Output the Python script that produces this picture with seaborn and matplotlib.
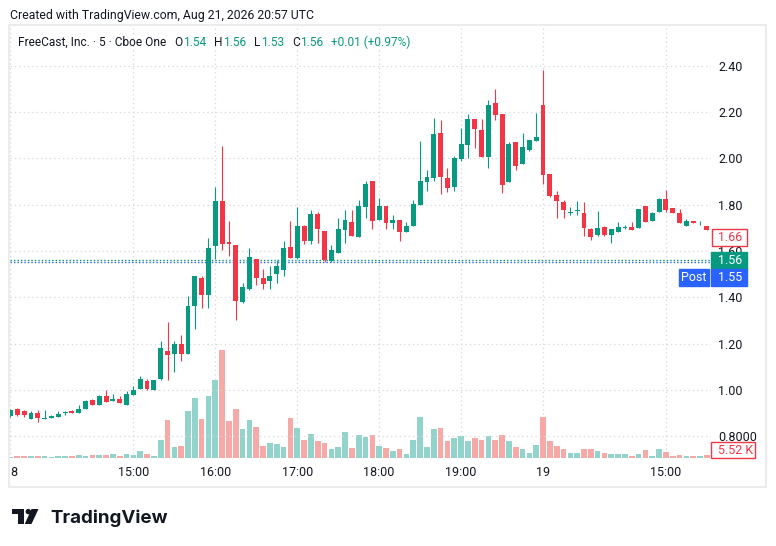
import numpy as np
import pandas as pd
import matplotlib
matplotlib.use("Agg")
import matplotlib.pyplot as plt
import matplotlib.transforms as mtransforms
from matplotlib.patches import Rectangle, Polygon, Circle
import seaborn as sns

# FreeCast, Inc. 5-min candles, Cboe One
bar_open = [0.886, 0.919, 0.907, 0.876, 0.902, 0.876, 0.880, 0.885, 0.900, 0.911,
            0.902, 0.919, 0.958, 0.936, 0.975, 0.953, 0.962, 0.936, 0.980, 1.006,
            1.039, 1.001, 1.045, 1.170, 1.157, 1.200, 1.157, 1.361, 1.482, 1.408,
            1.620, 1.815, 1.638, 1.625, 1.380, 1.434, 1.565, 1.484, 1.469, 1.499,
            1.517, 1.617, 1.569, 1.707, 1.642, 1.759, 1.686, 1.556, 1.590, 1.690,
            1.725, 1.660, 1.790, 1.903, 1.733, 1.794, 1.720, 1.733, 1.681, 1.707,
            1.798, 1.899, 1.916, 2.110, 1.916, 1.876, 1.997, 2.058, 2.170, 2.123,
            2.006, 2.240, 2.192, 1.899, 2.071, 1.976, 2.036, 2.075, 2.231, 1.933,
            1.842, 1.812, 1.764, 1.774, 1.765, 1.695, 1.669, 1.704, 1.669, 1.682,
            1.700, 1.704, 1.700, 1.793, 1.730, 1.769, 1.825, 1.786, 1.765, 1.708,
            1.730, 1.711, 1.708]
bar_high = [0.918, 0.921, 0.915, 0.910, 0.915, 0.915, 0.890, 0.910, 0.910, 0.915,
            0.936, 0.958, 0.962, 0.976, 0.998, 0.984, 0.975, 0.997, 1.018, 1.062,
            1.048, 1.044, 1.209, 1.291, 1.209, 1.239, 1.404, 1.492, 1.491, 1.655,
            1.876, 2.053, 1.729, 1.626, 1.460, 1.613, 1.566, 1.521, 1.534, 1.560,
            1.642, 1.729, 1.790, 1.712, 1.777, 1.768, 1.687, 1.625, 1.742, 1.777,
            1.777, 1.820, 1.903, 1.904, 1.829, 1.795, 1.755, 1.734, 1.725, 1.820,
            2.075, 1.950, 2.175, 2.166, 1.959, 2.010, 2.131, 2.192, 2.171, 2.170,
            2.252, 2.300, 2.193, 2.071, 2.072, 2.110, 2.081, 2.197, 2.383, 1.934,
            1.859, 1.820, 1.789, 1.815, 1.812, 1.699, 1.773, 1.708, 1.694, 1.726,
            1.710, 1.726, 1.783, 1.794, 1.766, 1.829, 1.864, 1.787, 1.782, 1.739,
            1.731, 1.730, 1.709]
bar_low = [0.884, 0.888, 0.881, 0.874, 0.860, 0.875, 0.879, 0.884, 0.893, 0.901,
           0.901, 0.918, 0.935, 0.935, 0.948, 0.952, 0.944, 0.935, 0.979, 1.005,
           0.998, 1.000, 1.042, 1.042, 1.079, 1.123, 1.156, 1.261, 1.352, 1.352,
           1.564, 1.603, 1.577, 1.301, 1.374, 1.433, 1.452, 1.434, 1.434, 1.460,
           1.490, 1.568, 1.565, 1.629, 1.629, 1.634, 1.551, 1.551, 1.589, 1.634,
           1.663, 1.659, 1.742, 1.694, 1.732, 1.694, 1.694, 1.642, 1.680, 1.706,
           1.797, 1.859, 1.903, 1.846, 1.855, 1.859, 1.989, 2.001, 2.045, 2.005,
           1.959, 2.166, 1.850, 1.898, 1.950, 1.975, 2.032, 2.074, 1.890, 1.833,
           1.742, 1.742, 1.754, 1.754, 1.665, 1.648, 1.665, 1.665, 1.635, 1.681,
           1.695, 1.690, 1.699, 1.725, 1.729, 1.768, 1.769, 1.764, 1.720, 1.707,
           1.720, 1.710, 1.690]
bar_close = [0.915, 0.890, 0.893, 0.902, 0.880, 0.879, 0.889, 0.898, 0.903, 0.902,
             0.919, 0.954, 0.936, 0.975, 0.949, 0.962, 0.945, 0.984, 1.001, 1.048,
             1.006, 1.043, 1.183, 1.150, 1.200, 1.157, 1.361, 1.491, 1.408, 1.612,
             1.815, 1.629, 1.629, 1.385, 1.443, 1.574, 1.484, 1.457, 1.490, 1.534,
             1.613, 1.569, 1.707, 1.642, 1.759, 1.694, 1.560, 1.603, 1.694, 1.733,
             1.664, 1.794, 1.890, 1.729, 1.794, 1.720, 1.733, 1.681, 1.707, 1.803,
             1.903, 1.920, 2.105, 1.920, 1.872, 2.001, 2.062, 2.170, 2.127, 2.006,
             2.231, 2.188, 1.885, 2.062, 1.967, 2.049, 2.080, 2.093, 1.929, 1.838,
             1.816, 1.777, 1.769, 1.778, 1.700, 1.661, 1.700, 1.669, 1.693, 1.704,
             1.703, 1.691, 1.782, 1.726, 1.765, 1.825, 1.778, 1.765, 1.721, 1.730,
             1.721, 1.714, 1.691]
volume_k = [2.0, 4.1, 4.1, 4.1, 4.1, 4.1, 2.0, 4.1, 4.1, 4.1,
            6.1, 4.1, 6.1, 6.1, 6.1, 8.2, 4.1, 8.2, 6.1, 14.3,
            8.2, 4.1, 36.7, 77.5, 22.4, 24.5, 95.9, 122.4, 79.6, 126.5,
            159.1, 220.3, 75.5, 99.7, 58.8, 77.1, 62.6, 23.9, 30.0, 27.9,
            21.8, 81.0, 60.6, 36.1, 48.3, 34.1, 30.0, 17.7, 21.8, 52.4,
            19.8, 46.3, 42.2, 46.3, 23.9, 19.8, 13.7, 17.7, 7.5, 36.1,
            83.0, 21.8, 58.5, 60.6, 34.1, 40.2, 44.3, 34.1, 40.2, 36.1,
            44.3, 36.1, 46.3, 34.1, 21.8, 17.7, 9.6, 25.9, 83.0, 34.1,
            23.9, 17.7, 9.6, 9.6, 17.7, 17.7, 13.7, 9.6, 7.5, 7.5,
            7.5, 3.5, 7.5, 15.7, 3.5, 17.7, 11.6, 3.5, 5.5, 3.5,
            3.5, 3.5, 5.52]

time_tick_bars = [0, 18, 30, 42, 54, 66, 78, 96]
time_tick_labels = ["8", "15:00", "16:00", "17:00", "18:00", "19:00", "19", "15:00"]
price_ticks = [0.8, 1.0, 1.2, 1.4, 1.6, 1.8, 2.0, 2.2, 2.4]
price_tick_labels = ["0.8000", "1.00", "1.20", "1.40", "1.60", "1.80", "2.00", "2.20", "2.40"]

last_close = 1.66
current_price = 1.56
post_price = 1.55
last_volume_label = "5.52 K"

UP, DOWN = "#089981", "#F23645"
VOL_UP, VOL_DOWN = "#92D3CC", "#F7A9A7"
BLUE = "#2962FF"
INK = "#131722"
GRID = "#D6D6D6"

sns.set_style("white")
plt.rcParams["font.family"] = ["Roboto", "DejaVu Sans"]

W, H = 776, 546
fig = plt.figure(figsize=(W / 100, H / 100), dpi=100)
L, R, T, B = 10, 711, 26, 458
axv = fig.add_axes([L / W, 1 - B / H, (R - L) / W, (B - T) / H])
ax = axv.twinx()

o = np.array(bar_open)
h = np.array(bar_high)
lo = np.array(bar_low)
c = np.array(bar_close)
idx = np.arange(len(o))
up = c >= o

# volume underneath
vol = pd.DataFrame({"bar": idx, "vol": volume_k, "side": np.where(up, "up", "down")})
sns.barplot(data=vol, x="bar", y="vol", hue="side", palette={"up": VOL_UP, "down": VOL_DOWN},
            native_scale=True, dodge=False, width=0.83, saturation=1, legend=False,
            errorbar=None, linewidth=0, ax=axv)
axv.set_ylim(0, 881)
axv.set_yticks([])
axv.set_xlabel("")
axv.set_ylabel("")

# candles
colors = np.where(up, UP, DOWN)
ax.vlines(idx, lo, h, colors=colors, linewidth=0.8, zorder=3)
ax.bar(idx, np.maximum(np.abs(c - o), 0.003), bottom=np.minimum(o, c), width=0.72,
       color=colors, linewidth=0, zorder=4)

ax.set_ylim(0.706, 2.571)
axv.set_xlim(-0.07, 102.6)

dots = (0, (1, 2.5))
axv.set_xticks(time_tick_bars)
axv.set_xticklabels(time_tick_labels)
axv.get_xticklabels()[0].set_ha("left")
axv.grid(axis="x", color=GRID, linestyle=dots, linewidth=0.9)
ax.set_yticks(price_ticks)
ax.set_yticklabels(price_tick_labels)
ax.grid(axis="y", color=GRID, linestyle=dots, linewidth=0.9, zorder=0)
axv.tick_params(axis="x", length=0, pad=6, labelsize=9, labelcolor=INK)
ax.tick_params(axis="y", length=0, pad=5, labelsize=9, labelcolor=INK)
for a in (ax, axv):
    for s in a.spines.values():
        s.set_visible(False)

ax.axhline(current_price, color=UP, linestyle=(0, (1, 1.5)), linewidth=1, zorder=2)
ax.axhline(post_price, color=BLUE, linestyle=(0, (1, 1.5)), linewidth=1, zorder=2)

# price tags on the right scale (1.60 stays partly hidden, as on TradingView)
dpp = (2.571 - 0.706) / (B - T)
blend = mtransforms.blended_transform_factory(ax.transAxes, ax.transData)


def tag(y, text, fc, tc, ec, x0=711, x1=747, dy=0, ha="left"):
    tr = mtransforms.offset_copy(blend, fig=fig, y=dy, units="dots")
    ax.add_patch(Rectangle(((x0 - L) / (R - L), y - 8.5 * dpp), (x1 - x0) / (R - L), 17 * dpp,
                           transform=tr, facecolor=fc, edgecolor=ec, linewidth=1,
                           clip_on=False, zorder=10))
    tx = (718 - L) / (R - L) if ha == "left" else ((x0 + x1) / 2 - L) / (R - L)
    ax.text(tx, y, text, transform=tr, color=tc, fontsize=9, va="center", ha=ha,
            clip_on=False, zorder=11)


tag(last_close, f"{last_close:.2f}", "white", DOWN, DOWN, x0=712)
tag(current_price, f"{current_price:.2f}", UP, "white", UP)
tag(post_price, f"{post_price:.2f}", BLUE, "white", BLUE, dy=-15.5)
tag(post_price, "Post", BLUE, "white", BLUE, x0=679, x1=709, dy=-15.5, ha="center")

axv.add_patch(Rectangle((1.0, 0.0), 44 / (R - L), 16 / (B - T), transform=axv.transAxes,
                        facecolor="white", edgecolor=DOWN, linewidth=1, clip_on=False, zorder=10))
axv.text((718 - L) / (R - L), 8 / (B - T), last_volume_label, transform=axv.transAxes,
         color=DOWN, fontsize=9, va="center", ha="left", clip_on=False, zorder=11)

# header texts
fig.text(10 / W, 1 - 15 / H, "Created with TradingView.com, Aug 21, 2026 20:57 UTC",
         fontsize=8.8, color=INK, va="center")
t = fig.text(18 / W, 1 - 42 / H, "FreeCast, Inc. · 5 · Cboe One", fontsize=8.6,
             color=INK, va="center")
pieces = [("O", INK, 6), ("1.54", UP, 0.5), ("H", INK, 5.5), ("1.56", UP, 0.5),
          ("L", INK, 5.5), ("1.53", UP, 0.5), ("C", INK, 5.5), ("1.56", UP, 0.5),
          ("+0.01 (+0.97%)", UP, 5.5)]
for txt, col, gap in pieces:
    t = ax.annotate(txt, xy=(1, 0.5), xycoords=t, xytext=(gap, 0), textcoords="offset points",
                    fontsize=8.6, color=col, va="center", ha="left", annotation_clip=False)

# outer frame
fig.add_artist(Rectangle((9 / W, 1 - 487 / H), (766 - 9) / W, (487 - 25) / H,
                         transform=fig.transFigure, fill=False, edgecolor="#ECECEC", linewidth=1.5))

# TradingView logo + wordmark
px = mtransforms.Affine2D().scale(1, -1).translate(0, H)
fig.add_artist(Polygon([(12, 509), (24, 509), (24, 524), (18, 524), (18, 514), (12, 514)],
                       closed=True, transform=px, facecolor=INK, edgecolor="none"))
fig.add_artist(Circle((28.3, 511.6), 2.7, transform=px, facecolor=INK, edgecolor="none"))
fig.add_artist(Polygon([(31.5, 509), (38.5, 509), (31.5, 524), (24.8, 524)],
                       closed=True, transform=px, facecolor=INK, edgecolor="none"))
fig.text(50 / W, 1 - 523 / H, "TradingView", fontsize=13.5, fontweight="bold",
         family=["Inter", "DejaVu Sans"], color=INK, va="baseline")

fig.savefig("out.png", dpi=100)
